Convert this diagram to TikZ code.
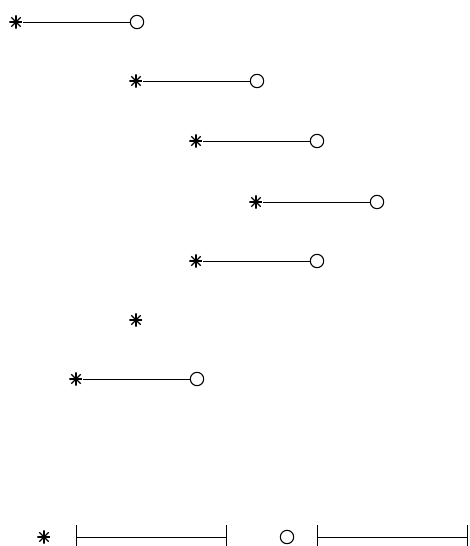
\documentclass[tikz,border=0pt]{standalone}
\usepackage{tikz}
\usetikzlibrary{positioning}

\tikzset{
  starmark/.style={circle, inner sep=0pt, minimum size=10pt,
    path picture={
      \draw[line width=0.95pt] (path picture bounding box.west) -- (path picture bounding box.east);
      \draw[line width=0.95pt] (path picture bounding box.north) -- (path picture bounding box.south);
      \draw[line width=0.95pt] (path picture bounding box.north west) -- (path picture bounding box.south east);
      \draw[line width=0.95pt] (path picture bounding box.north east) -- (path picture bounding box.south west);
      \fill (path picture bounding box.center) circle (1.6pt);
    }},
  ringmark/.style={circle, draw, inner sep=0pt, minimum size=10pt, line width=0.8pt}
}

\begin{document}
\begin{tikzpicture}[x=0.75pt, y=-0.75pt, line width=0.6pt]
  \useasboundingbox (0,0) rectangle (469,546);
  % ---------- PAIRS ----------
  \foreach \i/\x/\y in {1/16/22, 2/136/81, 3/196/141, 4/256/202, 5/196/261, 7/76/379} {
    \node[starmark] (s\i) at (\x,\y) {};
    \node[ringmark] (r\i) at (\x+121,\y) {};
    \draw (s\i) -- (r\i);
  }
  \node[starmark] (s6) at (136,320) {};
  % ---------- SCALE ----------
  \node[starmark] (sk) at (44,537) {};
  \node[ringmark] (rk) at (287,537) {};
  \coordinate (a1) at (76,537);
  \coordinate (a2) at (226,537);
  \coordinate (b1) at (317,537);
  \coordinate (b2) at (467.5,537);
  \draw (a1) -- (a2);
  \draw (b1) -- (b2);
  \foreach \p in {a1,a2,b1,b2} \draw (\p) ++(0,-12) -- ++(0,21);
\end{tikzpicture}
\end{document}
